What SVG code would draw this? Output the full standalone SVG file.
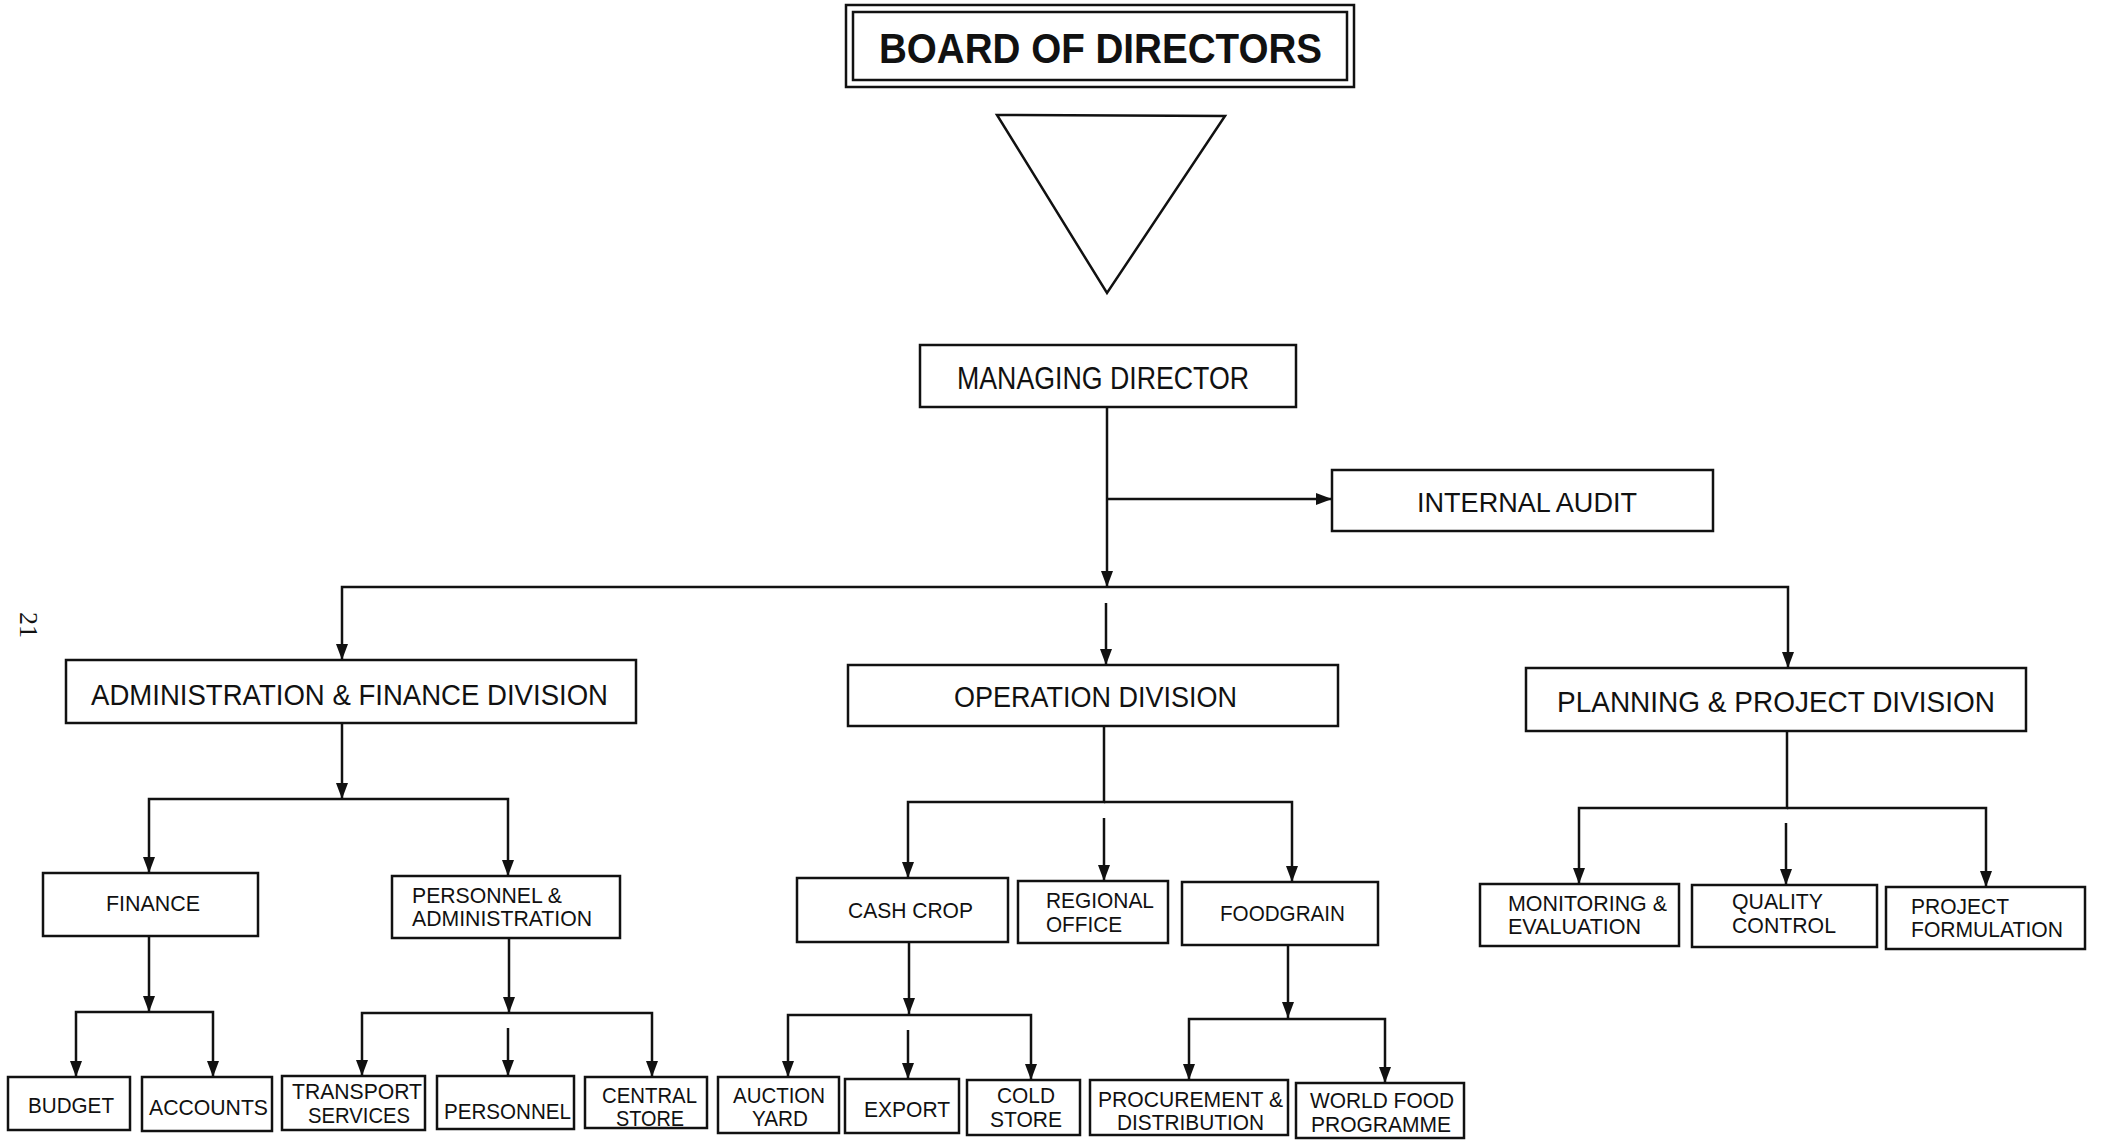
<svg xmlns="http://www.w3.org/2000/svg" width="2101" height="1143" viewBox="0 0 2101 1143">
<defs>
<style>
.box{fill:#fff;stroke:#111;stroke-width:2.5}
.ln{fill:none;stroke:#111;stroke-width:2.5}
.t{font-family:"Liberation Sans",Arial,sans-serif;fill:#111}
.h1{font-size:43px;font-weight:bold}
.h2{font-size:31px}
.h3{font-size:29px}
.h4{font-size:22px}
</style>
<marker id="ah" viewBox="0 0 16 12" refX="16" refY="6" markerWidth="16" markerHeight="12" markerUnits="userSpaceOnUse" orient="auto">
<path d="M0,0 L16,6 L0,12 z" fill="#111"/>
</marker>
</defs>
<rect width="2101" height="1143" fill="#fff"/>

<text x="26" y="625" transform="rotate(90 26 625)" font-family="Liberation Serif,serif" font-size="26" text-anchor="middle" dominant-baseline="middle" fill="#111">21</text>

<g id="connectors">
<path class="ln" d="M1107,407 V587" marker-end="url(#ah)"/>
<path class="ln" d="M1107,499 H1332" marker-end="url(#ah)"/>
<path class="ln" d="M1107,587 H342 V660" marker-end="url(#ah)"/>
<path class="ln" d="M1107,587 H1788 V668" marker-end="url(#ah)"/>
<path class="ln" d="M1106,603 V665" marker-end="url(#ah)"/>

<path class="ln" d="M342,723 V799" marker-end="url(#ah)"/>
<path class="ln" d="M342,799 H149 V873" marker-end="url(#ah)"/>
<path class="ln" d="M342,799 H508 V876" marker-end="url(#ah)"/>

<path class="ln" d="M149,936 V1012" marker-end="url(#ah)"/>
<path class="ln" d="M149,1012 H76 V1077" marker-end="url(#ah)"/>
<path class="ln" d="M149,1012 H213 V1077" marker-end="url(#ah)"/>

<path class="ln" d="M509,938 V1013" marker-end="url(#ah)"/>
<path class="ln" d="M509,1013 H362 V1076" marker-end="url(#ah)"/>
<path class="ln" d="M509,1013 H652 V1077" marker-end="url(#ah)"/>
<path class="ln" d="M508,1028 V1076" marker-end="url(#ah)"/>

<path class="ln" d="M1104,726 V802 H908 V878" marker-end="url(#ah)"/>
<path class="ln" d="M1104,802 H1292 V882" marker-end="url(#ah)"/>
<path class="ln" d="M1104,818 V881" marker-end="url(#ah)"/>

<path class="ln" d="M909,942 V1014" marker-end="url(#ah)"/>
<path class="ln" d="M909,1015 H788 V1077" marker-end="url(#ah)"/>
<path class="ln" d="M909,1015 H1031 V1080" marker-end="url(#ah)"/>
<path class="ln" d="M908,1030 V1079" marker-end="url(#ah)"/>

<path class="ln" d="M1288,945 V1018" marker-end="url(#ah)"/>
<path class="ln" d="M1288,1019 H1189 V1080" marker-end="url(#ah)"/>
<path class="ln" d="M1288,1019 H1385 V1083" marker-end="url(#ah)"/>

<path class="ln" d="M1787,731 V808 H1579 V884" marker-end="url(#ah)"/>
<path class="ln" d="M1787,808 H1986 V887" marker-end="url(#ah)"/>
<path class="ln" d="M1786,823 V885" marker-end="url(#ah)"/>
</g>

<g id="board">
<rect class="box" x="846" y="5" width="508" height="82"/>
<rect class="box" x="853" y="12" width="494" height="68"/>
<text class="t h1" x="879" y="63" textLength="443" lengthAdjust="spacingAndGlyphs">BOARD OF DIRECTORS</text>
</g>
<g id="triangle">
<polygon points="997,115 1225,116 1107,293" fill="none" stroke="#111" stroke-width="2.5"/>
</g>
<g id="managing-director">
<rect class="box" x="920" y="345" width="376" height="62"/>
<text class="t h2" x="957" y="389" textLength="292" lengthAdjust="spacingAndGlyphs">MANAGING DIRECTOR</text>
</g>
<g id="internal-audit">
<rect class="box" x="1332" y="470" width="381" height="61"/>
<text class="t" font-size="28" x="1417" y="512" textLength="220" lengthAdjust="spacingAndGlyphs">INTERNAL AUDIT</text>
</g>
<g id="admin-finance">
<rect class="box" x="66" y="660" width="570" height="63"/>
<text class="t h3" x="91" y="705" textLength="517" lengthAdjust="spacingAndGlyphs">ADMINISTRATION &amp; FINANCE DIVISION</text>
</g>
<g id="operation">
<rect class="box" x="848" y="665" width="490" height="61"/>
<text class="t h3" x="954" y="707" textLength="283" lengthAdjust="spacingAndGlyphs">OPERATION DIVISION</text>
</g>
<g id="planning">
<rect class="box" x="1526" y="668" width="500" height="63"/>
<text class="t h3" x="1557" y="712" textLength="438" lengthAdjust="spacingAndGlyphs">PLANNING &amp; PROJECT DIVISION</text>
</g>

<g id="finance">
<rect class="box" x="43" y="873" width="215" height="63"/>
<text class="t h4" x="106" y="911" textLength="94" lengthAdjust="spacingAndGlyphs">FINANCE</text>
</g>
<g id="personnel-admin">
<rect class="box" x="392" y="876" width="228" height="62"/>
<text class="t h4" x="412" y="903" textLength="150" lengthAdjust="spacingAndGlyphs">PERSONNEL &amp;</text>
<text class="t h4" x="412" y="926" textLength="180" lengthAdjust="spacingAndGlyphs">ADMINISTRATION</text>
</g>
<g id="cash-crop">
<rect class="box" x="797" y="878" width="211" height="64"/>
<text class="t h4" x="848" y="918" textLength="125" lengthAdjust="spacingAndGlyphs">CASH CROP</text>
</g>
<g id="regional-office">
<rect class="box" x="1018" y="881" width="150" height="62"/>
<text class="t h4" x="1046" y="908" textLength="108" lengthAdjust="spacingAndGlyphs">REGIONAL</text>
<text class="t h4" x="1046" y="932" textLength="76" lengthAdjust="spacingAndGlyphs">OFFICE</text>
</g>
<g id="foodgrain">
<rect class="box" x="1182" y="882" width="196" height="63"/>
<text class="t h4" x="1220" y="921" textLength="125" lengthAdjust="spacingAndGlyphs">FOODGRAIN</text>
</g>
<g id="monitoring">
<rect class="box" x="1480" y="884" width="199" height="62"/>
<text class="t h4" x="1508" y="911" textLength="159" lengthAdjust="spacingAndGlyphs">MONITORING &amp;</text>
<text class="t h4" x="1508" y="934" textLength="133" lengthAdjust="spacingAndGlyphs">EVALUATION</text>
</g>
<g id="quality-control">
<rect class="box" x="1692" y="885" width="185" height="62"/>
<text class="t h4" x="1732" y="909" textLength="91" lengthAdjust="spacingAndGlyphs">QUALITY</text>
<text class="t h4" x="1732" y="933" textLength="104" lengthAdjust="spacingAndGlyphs">CONTROL</text>
</g>
<g id="project-formulation">
<rect class="box" x="1886" y="887" width="199" height="62"/>
<text class="t h4" x="1911" y="914" textLength="98" lengthAdjust="spacingAndGlyphs">PROJECT</text>
<text class="t h4" x="1911" y="937" textLength="152" lengthAdjust="spacingAndGlyphs">FORMULATION</text>
</g>

<g id="budget">
<rect class="box" x="8" y="1077" width="122" height="53"/>
<text class="t h4" x="28" y="1113" textLength="86" lengthAdjust="spacingAndGlyphs">BUDGET</text>
</g>
<g id="accounts">
<rect class="box" x="142" y="1077" width="130" height="54"/>
<text class="t h4" x="149" y="1115" textLength="119" lengthAdjust="spacingAndGlyphs">ACCOUNTS</text>
</g>
<g id="transport">
<rect class="box" x="282" y="1076" width="143" height="54"/>
<text class="t h4" x="292" y="1099" textLength="130" lengthAdjust="spacingAndGlyphs">TRANSPORT</text>
<text class="t h4" x="308" y="1123" textLength="102" lengthAdjust="spacingAndGlyphs">SERVICES</text>
</g>
<g id="personnel">
<rect class="box" x="437" y="1076" width="137" height="53"/>
<text class="t h4" x="444" y="1119" textLength="127" lengthAdjust="spacingAndGlyphs">PERSONNEL</text>
</g>
<g id="central-store">
<rect class="box" x="585" y="1077" width="122" height="51"/>
<text class="t h4" x="602" y="1103" textLength="95" lengthAdjust="spacingAndGlyphs">CENTRAL</text>
<text class="t h4" x="616" y="1126" textLength="68" lengthAdjust="spacingAndGlyphs">STORE</text>
</g>
<g id="auction-yard">
<rect class="box" x="718" y="1077" width="121" height="56"/>
<text class="t h4" x="733" y="1103" textLength="92" lengthAdjust="spacingAndGlyphs">AUCTION</text>
<text class="t h4" x="752" y="1126" textLength="56" lengthAdjust="spacingAndGlyphs">YARD</text>
</g>
<g id="export">
<rect class="box" x="845" y="1079" width="114" height="54"/>
<text class="t h4" x="864" y="1117" textLength="86" lengthAdjust="spacingAndGlyphs">EXPORT</text>
</g>
<g id="cold-store">
<rect class="box" x="967" y="1080" width="113" height="55"/>
<text class="t h4" x="997" y="1103" textLength="58" lengthAdjust="spacingAndGlyphs">COLD</text>
<text class="t h4" x="990" y="1127" textLength="72" lengthAdjust="spacingAndGlyphs">STORE</text>
</g>
<g id="procurement">
<rect class="box" x="1090" y="1080" width="198" height="55"/>
<text class="t h4" x="1098" y="1107" textLength="185" lengthAdjust="spacingAndGlyphs">PROCUREMENT &amp;</text>
<text class="t h4" x="1117" y="1130" textLength="147" lengthAdjust="spacingAndGlyphs">DISTRIBUTION</text>
</g>
<g id="world-food">
<rect class="box" x="1296" y="1083" width="168" height="55"/>
<text class="t h4" x="1310" y="1108" textLength="144" lengthAdjust="spacingAndGlyphs">WORLD FOOD</text>
<text class="t h4" x="1311" y="1132" textLength="140" lengthAdjust="spacingAndGlyphs">PROGRAMME</text>
</g>
</svg>
